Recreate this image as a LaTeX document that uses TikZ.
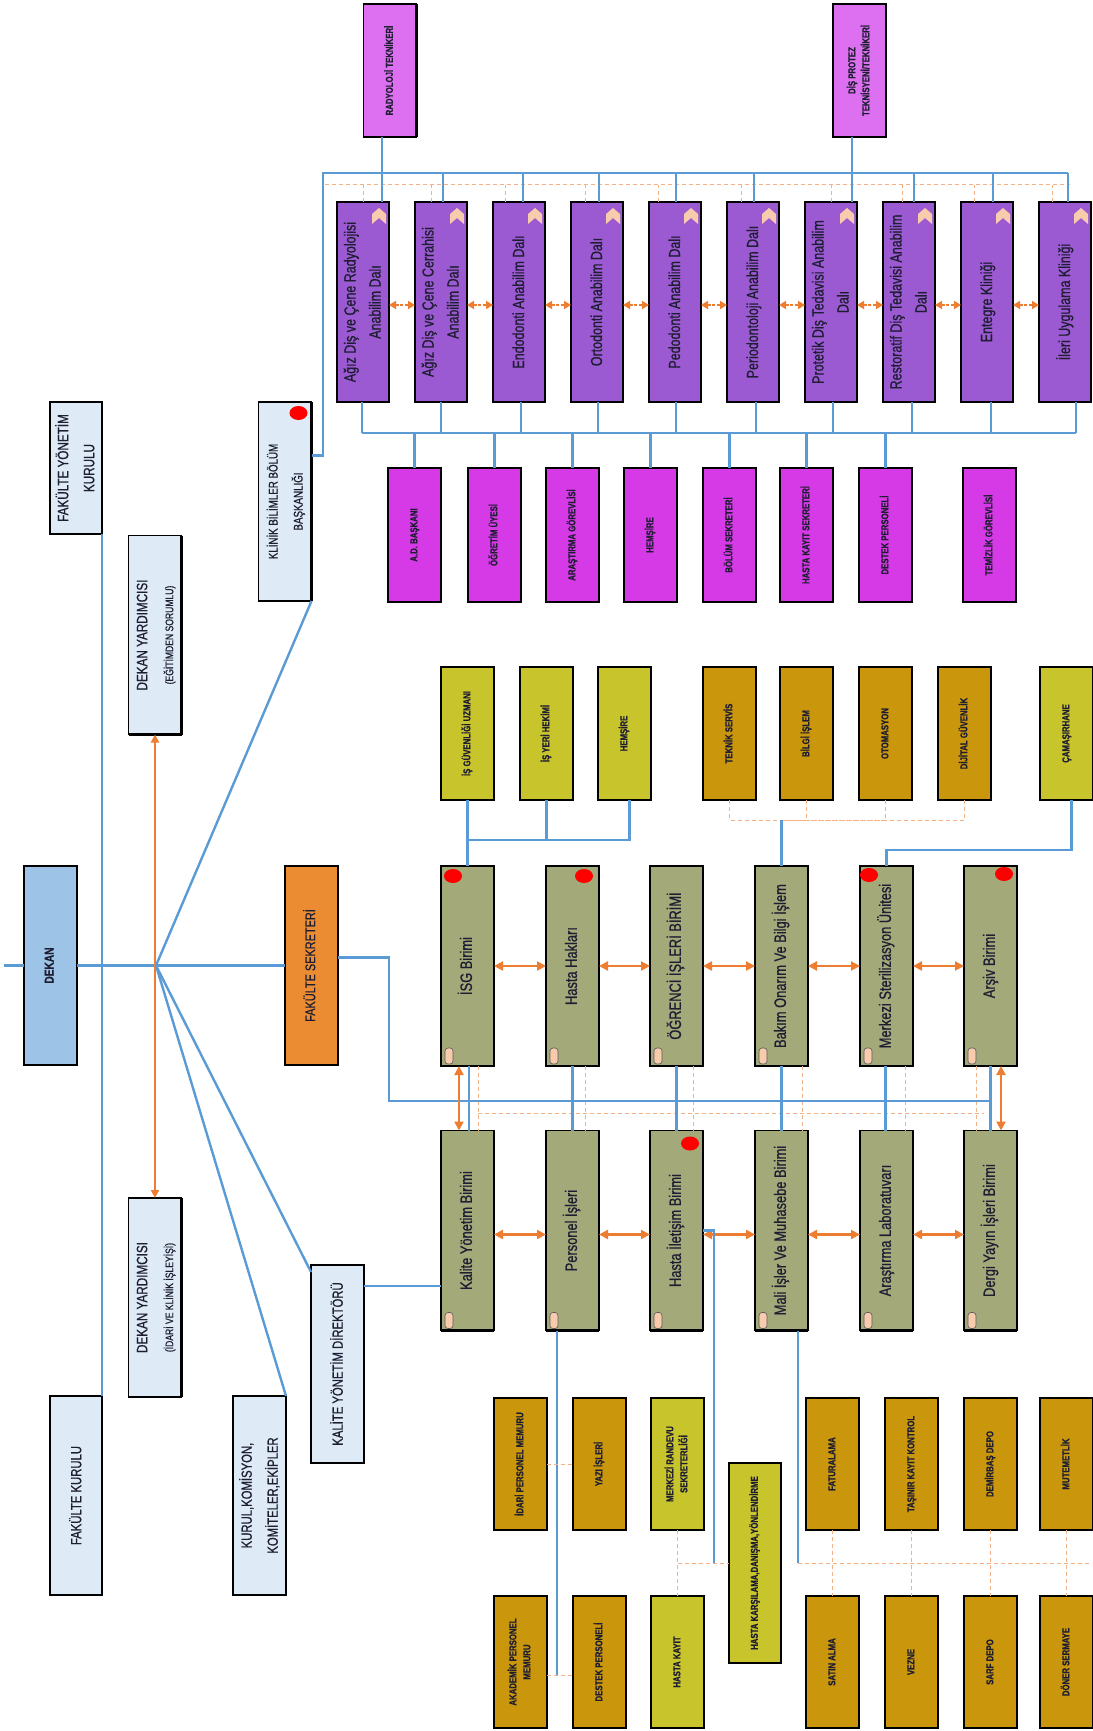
\documentclass[tikz,border=0pt]{standalone}
\usepackage{fontspec}
\setmainfont{Liberation Sans}[FakeStretch=0.78,FakeBold=0.8]
\usetikzlibrary{calc,arrows.meta}
\definecolor{lb}{HTML}{DEEBF7}
\definecolor{dek}{HTML}{9DC3E6}
\definecolor{fsor}{HTML}{EB8C32}
\definecolor{pur}{HTML}{9C5AD2}
\definecolor{mag}{HTML}{D63AE6}
\definecolor{lmag}{HTML}{DD70F0}
\definecolor{olv}{HTML}{A4A97A}
\definecolor{gld}{HTML}{C9960C}
\definecolor{ylg}{HTML}{C8C42C}
\definecolor{lblue}{HTML}{5B9BD5}
\definecolor{lor}{HTML}{ED7D31}
\definecolor{dor}{HTML}{F4B183}
\definecolor{peach}{HTML}{F8CBAD}
\definecolor{txt}{HTML}{1E1E32}
\newcommand{\rotl}[1]{\rotatebox{90}{\begin{tabular}{@{}c@{}}#1\end{tabular}}}
\newcommand\fG{\fontsize{16.5}{22}\selectfont}
\newcommand\fP{\fontsize{16}{25}\selectfont}
\newcommand\fS{\fontsize{10}{14}\selectfont\bfseries}
\newcommand\fL{\fontsize{15}{26}\selectfont}
\newcommand\fLs{\fontsize{11}{13}\selectfont}
\begin{document}
\begin{tikzpicture}[x=1pt,y=-1pt,
  bx/.style={draw=black, line width=1.1pt, inner sep=0pt, outer sep=0pt, text=txt,
    append after command={(\tikzlastnode.north east) edge[line width=2.6pt, black] (\tikzlastnode.south east)
      (\tikzlastnode.south east) edge[line width=2.6pt, black] (\tikzlastnode.south west)}},
  pbox/.style={bx, fill=pur, font=\fP, minimum width=52, minimum height=200},
  gbox/.style={bx, fill=olv, font=\fG, minimum width=53, minimum height=200},
  sbox/.style={bx, font=\fS, minimum width=53, minimum height=133},
  lbox/.style={bx, fill=lb, font=\fL, minimum width=53, minimum height=199},
  bl/.style={draw=lblue, line width=2.4pt},
  od/.style={draw=dor, line width=1pt, dash pattern=on 4pt off 3pt},
  oa/.style={draw=lor, line width=2.4pt, {Triangle[length=9pt,width=9pt]}-{Triangle[length=9pt,width=9pt]}},
  pa/.style={draw=lor, line width=2pt, dash pattern=on 3pt off 1.5pt, {Triangle[length=7pt,width=8pt]}-{Triangle[length=7pt,width=8pt]}},
  ha/.style={draw=lor, line width=2.2pt, {Triangle[length=8pt,width=8pt]}-{Triangle[length=8pt,width=8pt]}}
]
\useasboundingbox (0,0) rectangle (1092,1731);

% ---------- left column ----------
\node[lbox, minimum height=132, minimum width=52] (fyk) at (76,468) {\rotl{FAKÜLTE YÖNETİM\\KURULU}};
\node[lbox] (dy1) at (155,635) {\rotl{DEKAN YARDIMCISI\\{\fLs (EĞİTİMDEN SORUMLU)}}};
\node[lbox, font=\fontsize{12.5}{25}\selectfont] (kbb) at (285,501.5) {\rotl{KLİNİK BİLİMLER BÖLÜM\\BAŞKANLIĞI}};
\node[lbox, fill=dek, font=\fontsize{13}{16}\selectfont\bfseries] (dek) at (50.5,965.5) {\rotl{DEKAN}};
\node[lbox, fill=fsor, font=\fontsize{14}{16}\selectfont] (fs) at (311.5,965.5) {\rotl{FAKÜLTE SEKRETERİ}};
\node[lbox] (dy2) at (155,1297.5) {\rotl{DEKAN YARDIMCISI\\{\fLs (İDARİ VE KLİNİK İŞLEYİŞİ)}}};
\node[lbox, minimum width=52, font=\fontsize{14.5}{26}\selectfont] (fk) at (76,1495.5) {\rotl{FAKÜLTE KURULU}};
\node[lbox, font=\fontsize{14.5}{26}\selectfont] (kur) at (259.5,1495.5) {\rotl{KURUL,KOMİSYON,\\KOMİTELER,EKİPLER}};
\node[lbox, minimum height=198, font=\fontsize{14.5}{26}\selectfont] (kdir) at (337.5,1364) {\rotl{KALİTE YÖNETİM DİREKTÖRÜ}};

% ---------- top ----------
\node[sbox, fill=lmag, minimum height=133] (rt) at (390,70.5) {\rotl{RADYOLOJİ TEKNİKERİ}};
\node[sbox, fill=lmag, minimum height=133] (dpt) at (859.5,70.5) {\rotl{DİŞ PROTEZ\\TEKNİSYENİ/TEKNİKERİ}};

\node[pbox] (p0) at (363,302) {\rotl{Ağız Diş ve Çene Radyolojisi\\Anabilim Dalı}};
\node[pbox] (p1) at (441,302) {\rotl{Ağız Diş ve Çene Cerrahisi\\Anabilim Dalı}};
\node[pbox] (p2) at (519,302) {\rotl{Endodonti Anabilim Dalı}};
\node[pbox] (p3) at (597,302) {\rotl{Ortodonti Anabilim Dalı}};
\node[pbox] (p4) at (675,302) {\rotl{Pedodonti Anabilim Dalı}};
\node[pbox] (p5) at (753,302) {\rotl{Periodontoloji Anabilim Dalı}};
\node[pbox] (p6) at (831,302) {\rotl{Protetik Diş Tedavisi Anabilim\\Dalı}};
\node[pbox] (p7) at (909,302) {\rotl{Restoratif Diş Tedavisi Anabilim\\Dalı}};
\node[pbox] (p8) at (987,302) {\rotl{Entegre Kliniği}};
\node[pbox] (p9) at (1065,302) {\rotl{İleri Uygulama Kliniği}};

% staff
\node[sbox, fill=mag, minimum height=134] (s0) at (414.5,535) {\rotl{A.D. BAŞKANI}};
\node[sbox, fill=mag, minimum height=134] (s1) at (494.5,535) {\rotl{ÖĞRETİM ÜYESİ}};
\node[sbox, fill=mag, minimum height=134] (s2) at (572.5,535) {\rotl{ARAŞTIRMA GÖREVLİSİ}};
\node[sbox, fill=mag, minimum height=134] (s3) at (650.5,535) {\rotl{HEMŞİRE}};
\node[sbox, fill=mag, minimum height=134] (s4) at (729.5,535) {\rotl{BÖLÜM SEKRETERİ}};
\node[sbox, fill=mag, minimum height=134] (s5) at (806.5,535) {\rotl{HASTA KAYIT SEKRETERİ}};
\node[sbox, fill=mag, minimum height=134] (s6) at (885.5,535) {\rotl{DESTEK PERSONELİ}};
\node[sbox, fill=mag, minimum height=134] (s7) at (989.5,535) {\rotl{TEMİZLİK GÖREVLİSİ}};

% middle row
\node[sbox, fill=ylg] (m0) at (467.5,733.5) {\rotl{İŞ GÜVENLİĞİ UZMANI}};
\node[sbox, fill=ylg] (m1) at (546.5,733.5) {\rotl{İŞ YERİ HEKİMİ}};
\node[sbox, fill=ylg] (m2) at (624.5,733.5) {\rotl{HEMŞİRE}};
\node[sbox, fill=gld] (m3) at (729.5,733.5) {\rotl{TEKNİK SERVİS}};
\node[sbox, fill=gld] (m4) at (806.5,733.5) {\rotl{BİLGİ İŞLEM}};
\node[sbox, fill=gld] (m5) at (885.5,733.5) {\rotl{OTOMASYON}};
\node[sbox, fill=gld] (m6) at (964.5,733.5) {\rotl{DİJİTAL GÜVENLİK}};
\node[sbox, fill=ylg] (m7) at (1066.5,733.5) {\rotl{ÇAMAŞIRHANE}};

% green rows
\node[gbox] (g0) at (467.5,966) {\rotl{İSG Birimi}};
\node[gbox] (g1) at (572.5,966) {\rotl{Hasta Hakları}};
\node[gbox] (g2) at (676.5,966) {\rotl{ÖĞRENCİ İŞLERİ BİRİMİ}};
\node[gbox] (g3) at (781.5,966) {\rotl{Bakım Onarım Ve Bilgi İşlem}};
\node[gbox] (g4) at (886.5,966) {\rotl{Merkezi Sterilizasyon Ünitesi}};
\node[gbox] (g5) at (990.5,966) {\rotl{Arşiv Birimi}};
\node[gbox] (g6) at (467.5,1230.5) {\rotl{Kalite Yönetim Birimi}};
\node[gbox] (g7) at (572.5,1230.5) {\rotl{Personel İşleri}};
\node[gbox] (g8) at (676.5,1230.5) {\rotl{Hasta İletişim Birimi}};
\node[gbox] (g9) at (781.5,1230.5) {\rotl{Mali İşler Ve Muhasebe Birimi}};
\node[gbox] (g10) at (886.5,1230.5) {\rotl{Araştırma Laboratuvarı}};
\node[gbox] (g11) at (990.5,1230.5) {\rotl{Dergi Yayın İşleri Birimi}};

% bottom rows
\node[sbox, fill=gld, minimum height=132] (b0) at (520.5,1464) {\rotl{İDARİ PERSONEL MEMURU}};
\node[sbox, fill=gld, minimum height=132] (b1) at (599.5,1464) {\rotl{YAZI İŞLERİ}};
\node[sbox, fill=ylg, minimum height=132] (b2) at (677.5,1464) {\rotl{MERKEZİ RANDEVU\\SEKRETERLİĞİ}};
\node[sbox, fill=gld, minimum height=132] (b3) at (832.5,1464) {\rotl{FATURALAMA}};
\node[sbox, fill=gld, minimum height=132] (b4) at (911.5,1464) {\rotl{TAŞINIR KAYIT KONTROL}};
\node[sbox, fill=gld, minimum height=132] (b5) at (990.5,1464) {\rotl{DEMİRBAŞ DEPO}};
\node[sbox, fill=gld, minimum height=132] (b6) at (1066.5,1464) {\rotl{MUTEMETLİK}};
\node[sbox, fill=gld, minimum height=132] (c0) at (520.5,1662) {\rotl{AKADEMİK PERSONEL\\MEMURU}};
\node[sbox, fill=gld, minimum height=132] (c1) at (599.5,1662) {\rotl{DESTEK PERSONELİ}};
\node[sbox, fill=ylg, minimum height=132] (c2) at (677.5,1662) {\rotl{HASTA KAYIT}};
\node[sbox, fill=gld, minimum height=132] (c3) at (832.5,1662) {\rotl{SATIN ALMA}};
\node[sbox, fill=gld, minimum height=132] (c4) at (911.5,1662) {\rotl{VEZNE}};
\node[sbox, fill=gld, minimum height=132] (c5) at (990.5,1662) {\rotl{SARF DEPO}};
\node[sbox, fill=gld, minimum height=132] (c6) at (1066.5,1662) {\rotl{DÖNER SERMAYE}};
\node[sbox, fill=ylg, minimum width=52, minimum height=200, line width=1.8pt] (hk) at (755,1563) {\rotl{HASTA KARŞILAMA,DANIŞMA,YÖNLENDİRME}};

% ---------- connectors: left ----------
\coordinate (hub) at (156,965.5);
\coordinate (lstub) at (4,965.5);
\draw[bl] (lstub) -- (dek.west);
\draw[bl] (dek.east) -- (fs.west);
\draw[bl] (fyk.south east) -- (fk.north east);
\draw[bl] (hub) -- (kbb.south east);
\draw[bl] (hub) -- (kur.north east);
\draw[bl] (hub) -- ([yshift=-7pt]kdir.north west);
\draw[ha] (dy1.south) -- (dy2.north);

% ---------- top buses ----------
\coordinate (tl) at (323,173);
\coordinate (tr) at (1068,173);
\coordinate (dl) at (325,185);
\coordinate (dr) at (1070,185);
\draw[od] (dl) -- (dr);
\foreach \i/\o in {0/26,1/16,2/12,3/14,4/9,5/14,6/26,7/19,8/13,9/13}{
  \coordinate (td\i) at ($(p\i.north west)+(\o,0)$);
  \draw[od] (td\i) -- (td\i |- dl);
}
\draw[bl] ([yshift=46pt]kbb.east) -| (tl) -- (tr);
\foreach \i/\o in {0/45,1/28,2/30,3/28,4/27,5/27,6/47,7/31,8/32,9/29}{
  \coordinate (tb\i) at ($(p\i.north west)+(\o,0)$);
  \draw[bl] (tb\i) -- (tb\i |- tl);
}
\draw[bl] (rt.south -| tb0) -- (tb0);
\draw[bl] (dpt.south -| tb6) -- (tb6);
\foreach \i/\j in {0/1,1/2,2/3,3/4,4/5,5/6,6/7,7/8,8/9}{
  \draw[pa] ([yshift=-3pt]p\i.east) -- ([yshift=-3pt]p\j.west);
}

% lower bus
\foreach \i/\o in {0/-1,1/0,2/2,3/1,4/1,5/3,6/2,7/3,8/4,9/11}{
  \coordinate (bb\i) at ($(p\i.south)+(\o,0)$);
}
\coordinate (bl0) at (362,433);
\coordinate (br0) at (1076,433);
\foreach \i in {0,...,9}{ \draw[bl] (bb\i) -- (bb\i |- bl0); }
\draw[bl] (bl0) -- (br0);
\foreach \i in {0,...,6}{ \draw[bl] (s\i.north) -- (s\i.north |- bl0); }

% ---------- middle ----------
\coordinate (isgj) at (467.5,840);
\draw[bl] (m0.south) -- (g0.north);
\draw[bl] (m1.south) |- (isgj);
\draw[bl] ([xshift=5pt]m2.south) |- (isgj);
\coordinate (gj) at (781.5,820);
\foreach \i in {3,4,5,6}{ \draw[od] (m\i.south) |- (gj); }
\draw[bl] (gj) -- (g3.north);
\draw[bl] ([xshift=5pt]m7.south) -- ++(0,50) -| (g4.north);

% ---------- green rows ----------
\draw[od] (478,1113) -- (984,1113);
\foreach \i/\o in {0/10.5,1/12.5,2/16.5,3/20.5,4/18.5,5/-14.5}{
  \pgfmathtruncatemacro{\j}{\i+6}
  \draw[od] ([xshift=\o pt]g\i.south) -- ([xshift=\o pt]g\j.north);
}
\coordinate (fsj) at (389,1101);
\draw[bl] ([yshift=8pt]fs.east) -| (fsj) -- (fsj -| g5.south);
\foreach \i/\o in {0/1.5,1/0,2/0,3/0,4/-1,5/0}{
  \pgfmathtruncatemacro{\j}{\i+6}
  \draw[bl] ([xshift=\o pt]g\i.south) -- ([xshift=\o pt]g\j.north);
}
\draw[oa] ([xshift=-8.5pt]g0.south) -- ([xshift=-8.5pt]g6.north);
\draw[oa] ([xshift=10.5pt]g5.south) -- ([xshift=10.5pt]g11.north);
\foreach \i/\j in {0/1,1/2,2/3,3/4,4/5}{ \draw[oa] (g\i.east) -- (g\j.west); }
\foreach \i/\j in {6/7,7/8,8/9,9/10,10/11}{ \draw[oa] ([yshift=-4pt]g\i.east) -- ([yshift=-4pt]g\j.west); }
\coordinate (kd) at ([yshift=78pt]kdir.east);
\draw[bl] (kd) -- (kd -| g6.west);

% ---------- bottom ----------
\coordinate (pij) at (557,1675);
\draw[bl] ([xshift=-15.5pt]g7.south) -- (pij);
\draw[od] (c0.east |- pij) -- (c1.west |- pij);
\draw[od] (b0.east) -- (b1.west);
\coordinate (hij) at (714,1563);
\draw[bl] (g8.east) -| (hij);
\draw[od] (b2.south) -- (c2.north);
\draw[od] (b2.south |- hk.west) -- (hk.west);
\coordinate (mij) at (798,1563);
\coordinate (mie) at (1092,1563);
\draw[bl] ([xshift=16.5pt]g9.south) -- (mij);
\draw[od] (mij) -- (mie);
\foreach \i in {3,4,5,6}{ \draw[od] (b\i.south) -- (c\i.north); }

% ---------- decorations ----------
\foreach \i in {0,...,9}{
  \coordinate (ic\i) at ($(p\i.north east)+(-10,14)$);
  \fill[peach, shift={(ic\i)}] (-7,8) -- (-7,-2) -- (0,-8) -- (7,-2) -- (7,8) -- (0,2) -- cycle;
}
\foreach \i in {0,...,11}{
  \coordinate (sc\i) at ($(g\i.south west)+(8,-10)$);
  \draw[draw=gray!70!black, fill=peach, line width=0.6pt, rounded corners=3pt, shift={(sc\i)}] (-4,8) rectangle (4,-8);
}
\fill[red] ($(g0.north west)+(12,10)$) ellipse (9 and 7);
\fill[red] ($(g1.north east)+(-15,10)$) ellipse (9 and 7);
\fill[red] ($(g4.north west)+(9,9)$) ellipse (9 and 7);
\fill[red] ($(g5.north east)+(-13,8)$) ellipse (9 and 7);
\fill[red] ($(g8.north east)+(-13,13)$) ellipse (9 and 7);
\fill[red] ($(kbb.north east)+(-13,11)$) ellipse (9 and 7);
\end{tikzpicture}
\end{document}
